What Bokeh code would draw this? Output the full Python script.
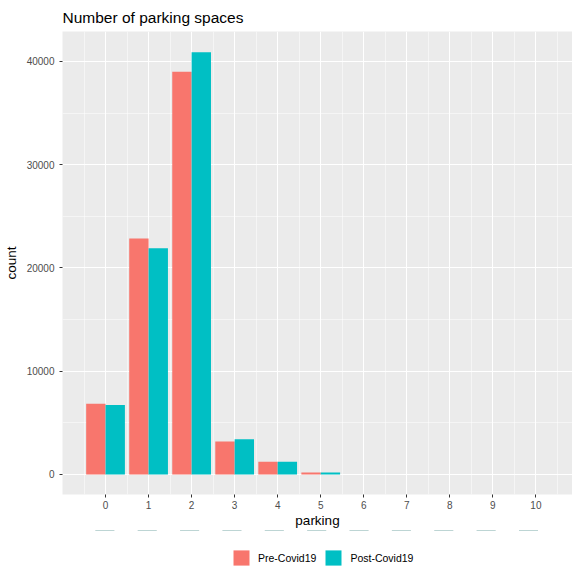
from bokeh.plotting import figure
from bokeh.layouts import column
from bokeh.models import (Range1d, FixedTicker, Legend, LegendItem,
                          BasicTickFormatter, ColumnDataSource)
from bokeh.transform import dodge
from bokeh.embed import file_html
from bokeh.resources import INLINE

parking = [0, 1, 2, 3, 4, 5, 6, 7, 8, 9, 10]
pre_covid = [6850, 22850, 39000, 3200, 1230, 200, 4, 2, 1, 1, 1]
post_covid = [6720, 21900, 40900, 3420, 1230, 200, 3, 1, 1, 1, 1]
series = ["Pre-Covid19", "Post-Covid19"]
colors = ["#F8766D", "#00BFC4"]
y_ticks = [0, 10000, 20000, 30000, 40000]
y_minor = [5000, 15000, 25000, 35000]
x_minor = [-0.5, 0.5, 1.5, 2.5, 3.5, 4.5, 5.5, 6.5, 7.5, 8.5, 9.5, 10.5]

src = ColumnDataSource(dict(parking=parking, pre=pre_covid, post=post_covid))

FONT = "Liberation Sans"

p = figure(frame_width=510, frame_height=463,
           x_range=Range1d(-1.0, 10.85), y_range=Range1d(-1940, 42900),
           output_backend="svg", toolbar_location=None,
           min_border_left=54, min_border_right=0, min_border_top=22,
           min_border_bottom=0)

p.title.text = "Number of parking spaces"
p.title.text_font = FONT
p.title.text_font_size = "15.5px"
p.title.text_font_style = "normal"
p.title.text_color = "#000000"
p.title.offset = 0
p.title.standoff = 11.5

p.background_fill_color = "#EBEBEB"
p.border_fill_color = "white"
p.outline_line_color = None

r_pre = p.vbar(x=dodge("parking", -0.225, range=p.x_range), top="pre", width=0.45,
               bottom=0, source=src, fill_color=colors[0], line_color=None)
r_post = p.vbar(x=dodge("parking", 0.225, range=p.x_range), top="post", width=0.45,
                bottom=0, source=src, fill_color=colors[1], line_color=None)

# axes
p.xaxis.ticker = FixedTicker(ticks=parking, minor_ticks=x_minor)
p.yaxis.ticker = FixedTicker(ticks=y_ticks, minor_ticks=y_minor)
p.yaxis.formatter = BasicTickFormatter(use_scientific=False)
for ax in (p.xaxis[0], p.yaxis[0]):
    ax.axis_line_color = None
    ax.major_tick_in = 0
    ax.major_tick_out = 3
    ax.major_tick_line_color = "#333333"
    ax.minor_tick_line_color = None
    ax.major_label_text_color = "#4D4D4D"
    ax.major_label_text_font = FONT
    ax.major_label_text_font_size = "10px"
    ax.major_label_standoff = 2
    ax.axis_label_text_font = FONT
    ax.axis_label_text_font_size = "13.5px"
    ax.axis_label_text_font_style = "normal"
    ax.axis_label_text_color = "#000000"
    ax.axis_label_standoff = 3
p.yaxis.major_label_standoff = 4
p.yaxis.axis_label_standoff = 5
p.xaxis.axis_label_standoff = 1
p.xaxis.axis_label = "parking"
p.yaxis.axis_label = "count"

for g in (p.xgrid[0], p.ygrid[0]):
    g.grid_line_color = "white"
    g.grid_line_width = 1.1
    g.minor_grid_line_color = "white"
    g.minor_grid_line_width = 0.5
p.xgrid.ticker = p.xaxis[0].ticker
p.ygrid.ticker = p.yaxis[0].ticker

# legend in a small strip below the plot; its key renderers use the same data,
# but the strip's y range lies well below the bars so they stay out of view
lf = figure(width=564, height=38, x_range=Range1d(-1.0, 10.85),
            y_range=Range1d(-50000, -45000),
            output_backend="svg", toolbar_location=None,
            min_border_left=0, min_border_right=0, min_border_top=0,
            min_border_bottom=0)
lf.axis.visible = False
lf.grid.visible = False
lf.outline_line_color = None
lf.background_fill_color = "white"
k_pre = lf.vbar(x="parking", top="pre", bottom=0, width=0.45, source=src,
                fill_color=colors[0], line_color=None)
k_post = lf.vbar(x="parking", top="post", bottom=0, width=0.45, source=src,
                 fill_color=colors[1], line_color=None)

legend = Legend(items=[LegendItem(label=series[0], renderers=[k_pre]),
                       LegendItem(label=series[1], renderers=[k_post])],
                orientation="horizontal", location=(169, 1),
                border_line_color=None, background_fill_alpha=0,
                label_text_font=FONT, label_text_font_size="10.5px",
                label_text_color="#000000",
                glyph_width=20, glyph_height=19, label_standoff=7,
                spacing=7, padding=0, margin=0)
lf.add_layout(legend, "center")

layout = column(p, lf, spacing=0)
open("out.html", "w").write(file_html(layout, INLINE))
